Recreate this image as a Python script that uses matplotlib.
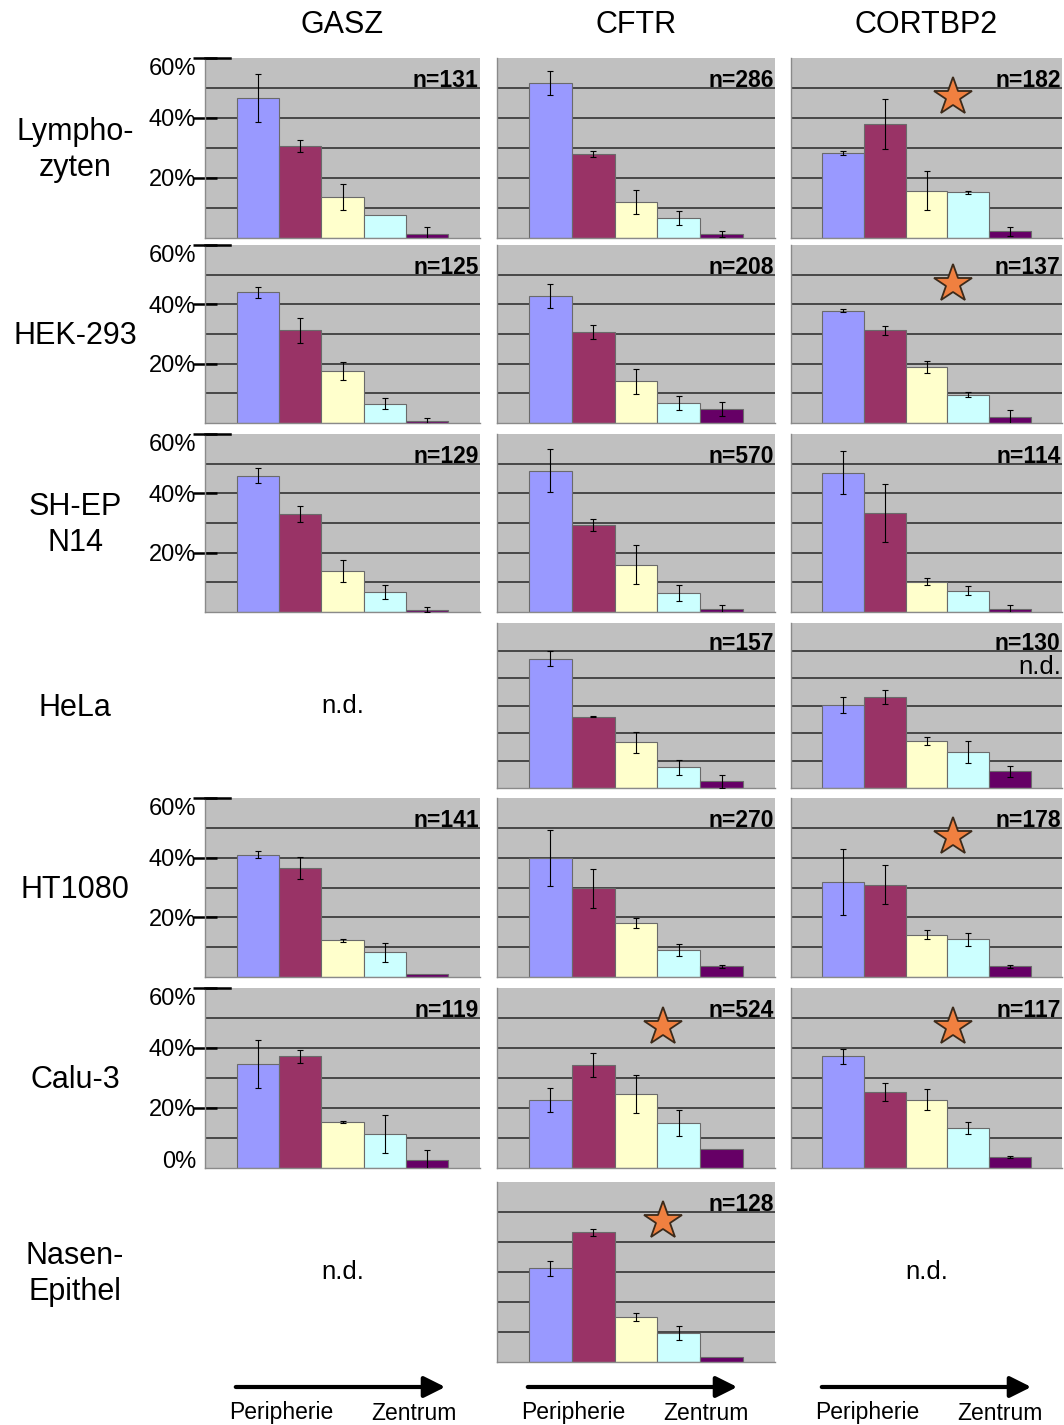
import numpy as np
import matplotlib.pyplot as plt

plt.rcParams['font.family'] = ['Liberation Sans', 'DejaVu Sans']

W, H = 1064, 1425

genes = ['GASZ', 'CFTR', 'CORTBP2']
cell_lines = ['Lympho-\nzyten', 'HEK-293', 'SH-EP\nN14', 'HeLa', 'HT1080', 'Calu-3', 'Nasen-\nEpithel']

# percent of cells per zone (Peripherie -> Zentrum), None = n.d.
gasz_vals = [[46.7, 30.7, 13.6, 7.6, 1.4],
             [44.0, 31.3, 17.5, 6.5, 0.6],
             [46.0, 33.0, 13.9, 6.8, 0.8],
             None,
             [41.0, 36.4, 12.3, 8.3, 1.1],
             [34.7, 37.2, 15.3, 11.3, 2.8],
             None]
gasz_err = [[8.1, 1.9, 4.3, 0, 2.2],
            [2.0, 4.2, 3.0, 1.8, 1.0],
            [2.4, 2.6, 3.7, 2.4, 0.8],
            None,
            [1.2, 3.7, 0.5, 3.2, 0],
            [7.9, 2.1, 0.3, 6.3, 3.2],
            None]
gasz_n = [131, 125, 129, None, 141, 119, None]

cftr_vals = [[51.7, 28.0, 12.0, 6.7, 1.3],
             [42.8, 30.8, 14.0, 6.8, 4.7],
             [47.6, 29.3, 15.9, 6.4, 1.0],
             [47.0, 26.0, 16.7, 7.5, 2.4],
             [40.0, 29.7, 18.2, 9.1, 3.6],
             [22.7, 34.3, 24.7, 15.1, 6.2],
             [31.2, 43.2, 15.0, 9.6, 1.6]]
cftr_err = [[4.0, 1.0, 4.0, 2.3, 1.0],
            [4.0, 2.4, 4.2, 2.4, 2.3],
            [7.2, 2.0, 6.6, 2.7, 1.5],
            [2.7, 0.3, 3.8, 2.8, 2.4],
            [9.4, 6.5, 1.7, 1.9, 0.5],
            [4.0, 4.0, 6.4, 4.3, 0],
            [2.4, 1.1, 1.4, 2.3, 0]]
cftr_n = [286, 208, 570, 157, 270, 524, 128]

cortbp2_vals = [[28.3, 38.1, 15.8, 15.3, 2.2],
                [37.9, 31.2, 18.8, 9.6, 1.9],
                [47.0, 33.4, 10.2, 7.2, 1.0],
                [30.2, 33.0, 17.0, 13.0, 6.1],
                [31.9, 31.0, 14.2, 12.6, 3.6],
                [37.2, 25.3, 22.7, 13.3, 3.6],
                None]
cortbp2_err = [[0.7, 8.3, 6.4, 0.5, 1.5],
               [0.5, 1.5, 2.0, 1.0, 2.6],
               [7.2, 9.7, 1.2, 1.5, 1.2],
               [2.9, 2.5, 1.4, 4.0, 2.0],
               [11.0, 6.6, 1.4, 2.2, 0.5],
               [2.4, 3.0, 3.5, 1.9, 0.3],
               None]
cortbp2_n = [182, 137, 114, 130, 178, 117, None]

cftr_star = [False, False, False, False, False, True, True]
cortbp2_star = [True, True, False, False, True, True, False]
gasz_star = [False] * 7

bar_colors = ['#9999ff', '#993366', '#ffffcc', '#ccffff', '#660066']

# panel layout in pixels
col_x = [(205, 480), (497, 775), (791, 1062)]
row_y = [(58, 238), (245, 423), (434, 612), (623, 788), (798, 977), (988, 1168), (1182, 1362)]

all_vals = [gasz_vals, cftr_vals, cortbp2_vals]
all_err = [gasz_err, cftr_err, cortbp2_err]
all_n = [gasz_n, cftr_n, cortbp2_n]
all_star = [gasz_star, cftr_star, cortbp2_star]

fig = plt.figure(figsize=(W / 100, H / 100), dpi=100)
fig.patch.set_facecolor('white')

# overlay axes in pixel coords for free text / arrows
ov = fig.add_axes([0, 0, 1, 1])
ov.set_xlim(0, W)
ov.set_ylim(H, 0)
ov.axis('off')

for c, g in enumerate(genes):
    x0, x1 = col_x[c]
    ov.text((x0 + x1) / 2, 25, g, ha='center', va='center', fontsize=22)

for r, lbl in enumerate(cell_lines):
    y0, y1 = row_y[r]
    ov.text(75, (y0 + y1) / 2 + 2, lbl, ha='center', va='center', fontsize=22, linespacing=1.3)

xs = np.arange(5)
for c in range(3):
    x0, x1 = col_x[c]
    for r in range(7):
        y0, y1 = row_y[r]
        vals = all_vals[c][r]
        if vals is None:
            ov.text((x0 + x1) / 2, (y0 + y1) / 2, 'n.d.', ha='center', va='center', fontsize=18.5)
            continue
        ax = fig.add_axes([x0 / W, 1 - y1 / H, (x1 - x0) / W, (y1 - y0) / H])
        ax.set_facecolor('#c0c0c0')
        for gl in range(10, 60, 10):
            ax.axhline(gl, color='#333333', lw=1.2, zorder=0)
        ax.bar(xs, vals, width=1.0, color=bar_colors, edgecolor='#6a6a6a', lw=0.8, zorder=2)
        errs = np.array(all_err[c][r])
        m = errs > 0
        ax.errorbar(xs[m], np.array(vals)[m], yerr=errs[m], fmt='none', ecolor='black',
                    elinewidth=0.8, capsize=2, capthick=0.8, zorder=3)
        ax.set_xlim(-1.25, 5.25)
        ax.set_ylim(0, 60)
        ax.set_xticks([])
        for s in ['top', 'right']:
            ax.spines[s].set_visible(False)
        for s in ['left', 'bottom']:
            ax.spines[s].set_color('#8a8a8a')
            ax.spines[s].set_linewidth(1.0)
        ax.text(5.22, 52.5, 'n=%d' % all_n[c][r], ha='right', va='center',
                fontsize=16.5, fontweight='bold', zorder=4)
        if c == 2 and r == 3:
            ax.text(5.22, 44, 'n.d.', ha='right', va='center', fontsize=18.5, zorder=4)
        if all_star[c][r]:
            ax.plot(2.63, 47, marker='*', markersize=29, color='#f08040',
                    markeredgecolor='#3c2a1a', markeredgewidth=1.3, zorder=4)
        if c == 0:
            if r == 5:
                ax.set_yticks([0, 20, 40, 60])
                ax.set_yticklabels(['0%', '20%', '40%', '60%'])
                ax.yaxis.get_major_ticks()[0].tick1line.set_visible(False)
                ax.get_yticklabels()[0].set_va('baseline')
            else:
                ax.set_yticks([20, 40, 60])
                ax.set_yticklabels(['20%', '40%', '60%'])
            ax.tick_params(axis='y', direction='inout', length=17, width=1.8,
                           color='black', labelsize=17, pad=-2)
            ax.get_yticklabels()[-1].set_va('top')
            ax.plot([0, 0.09], [60, 60], transform=ax.get_yaxis_transform(),
                    color='black', lw=1.8, clip_on=False, zorder=5)
        else:
            ax.set_yticks([])

# direction arrows below each column
for c in range(3):
    x0, x1 = col_x[c]
    ov.annotate('', xy=(x0 + 243, 1387), xytext=(x0 + 28, 1387),
                arrowprops=dict(arrowstyle='-|>', lw=3, color='black', mutation_scale=32))
    ov.text(x0 + 76, 1413, 'Peripherie', ha='center', va='center', fontsize=16.5)
    ov.text(x0 + 209, 1413, 'Zentrum', ha='center', va='center', fontsize=16.5)

plt.savefig('out.png', dpi=100)
